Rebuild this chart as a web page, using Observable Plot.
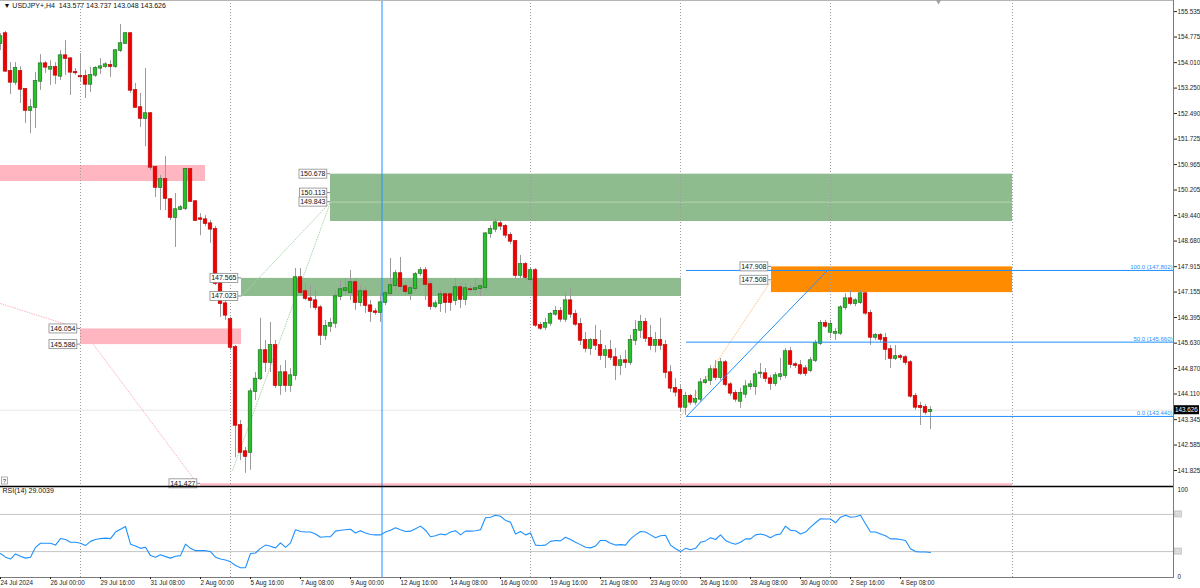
<!DOCTYPE html>
<html>
<head>
<meta charset="utf-8">
<script src="https://cdn.jsdelivr.net/npm/d3@7"></script>
<script src="https://cdn.jsdelivr.net/npm/@observablehq/plot@0.6"></script>
<style>
  html, body { margin: 0; padding: 0; background: #ffffff; }
  #chart { position: relative; width: 1200px; height: 588px; overflow: hidden; background: #ffffff; }
  #chart svg { position: absolute; left: 0; display: block; }
</style>
</head>
<body>
<div id="chart"></div>
<script>
// ---------------- DATA ----------------
const symbolTitle = "\u25BC USDJPY+,H4  143.577 143.737 143.048 143.626";
const rsiTitle = "RSI(14) 29.0039";

const open = [
154.58,154.88,153.75,153.42,153.75,153.21,152.58,152.67,153.45,153.98,
153.81,153.87,153.60,154.22,154.13,153.72,153.60,153.60,153.36,153.63,
153.84,153.89,153.93,153.89,154.37,154.58,154.88,153.18,152.67,152.34,
152.49,150.88,150.28,150.52,149.92,149.38,149.62,149.65,150.82,149.86,
149.35,149.32,149.20,149.03,147.41,146.81,146.34,145.50,143.17,142.39,
142.36,144.18,144.56,145.41,145.05,145.56,144.36,144.75,144.36,144.66,
147.59,147.17,146.96,146.90,146.69,145.86,146.13,146.22,147.02,147.20,
147.14,147.44,146.84,147.17,146.75,146.57,146.54,146.84,147.11,147.35,
147.71,147.32,147.11,147.26,147.71,147.80,147.38,146.72,146.81,147.08,
147.08,146.90,147.29,146.93,147.23,147.23,147.26,147.29,148.90,149.03,
149.20,149.12,148.85,148.67,147.65,147.98,147.53,147.80,146.16,146.10,
146.22,146.49,146.58,146.34,146.90,146.49,146.19,145.71,145.47,145.71,
145.56,145.26,145.41,145.20,144.96,145.11,145.05,145.71,146.01,146.25,
145.77,145.56,145.71,145.56,144.75,144.28,144.22,143.71,144.04,143.86,
143.95,144.45,144.51,144.84,144.60,145.05,144.39,144.13,143.89,144.10,
144.33,144.33,144.72,144.72,144.57,144.42,144.63,144.66,145.38,144.99,
144.96,144.87,144.81,145.11,145.62,146.22,145.95,145.92,145.92,146.69,
146.96,146.81,146.84,147.11,146.52,145.80,145.86,145.77,145.44,145.17,
145.23,145.20,145.05,144.04,143.74,143.71,143.577];

const high = [
154.88,154.94,154.01,154.01,153.89,153.24,152.91,153.72,154.25,154.04,
154.07,154.01,154.37,154.67,154.16,153.84,154.28,153.78,153.87,153.89,
154.13,154.01,154.07,154.40,155.15,154.91,154.91,153.39,153.09,153.84,
152.52,150.91,150.64,151.21,149.95,150.10,149.74,150.84,150.85,149.89,
149.50,149.44,149.29,149.12,147.50,146.90,146.40,145.56,143.32,142.51,
144.27,144.75,146.37,145.71,146.25,145.71,144.96,145.11,144.87,147.86,
147.86,147.41,147.35,147.20,146.75,146.31,146.37,147.20,147.50,147.56,
147.80,147.56,147.35,147.29,146.90,146.66,147.11,147.20,148.16,147.80,
148.19,147.41,147.35,147.74,147.89,147.89,147.50,146.90,147.20,147.14,
147.11,147.56,147.41,147.41,147.35,147.56,147.35,148.93,149.14,149.35,
149.29,149.17,148.93,148.70,148.25,148.04,147.86,147.86,146.25,146.37,
146.55,146.72,146.69,147.14,147.29,146.61,146.37,145.95,145.77,146.16,
146.01,145.56,145.71,145.47,145.26,145.41,145.86,146.31,146.46,146.37,
146.16,145.95,146.37,145.71,144.96,144.57,144.36,144.16,144.10,144.22,
144.57,144.63,144.96,145.11,145.17,145.11,144.45,144.22,144.28,144.51,
144.51,144.81,145.02,144.87,144.66,144.75,145.17,145.47,145.50,145.05,
145.11,144.96,145.20,145.71,146.31,146.31,146.31,146.07,146.75,147.11,
147.20,146.96,147.20,147.17,146.61,145.92,145.92,145.92,145.56,145.56,
145.29,145.26,145.11,144.13,143.86,143.80,143.737];

const low = [
154.37,153.72,153.06,153.33,152.79,152.19,151.89,152.04,153.18,153.69,
153.33,153.36,153.48,153.63,153.03,153.63,153.42,152.94,153.12,153.57,
153.66,153.84,153.57,153.84,154.31,154.58,153.09,152.64,152.07,151.50,
150.79,149.98,149.59,149.59,149.29,148.49,149.59,149.59,149.83,149.26,
148.84,149.11,148.61,147.35,146.40,146.31,145.41,142.21,142.12,141.74,
141.83,143.92,144.51,144.75,144.75,144.28,144.07,144.16,144.16,144.51,
147.08,146.90,146.66,146.61,145.56,145.71,145.95,146.07,146.90,147.05,
146.90,146.61,146.72,146.52,146.25,146.46,146.25,146.75,147.02,147.20,
147.20,147.05,146.90,147.14,147.62,146.90,146.61,146.66,146.55,146.52,
146.58,146.75,146.66,146.75,147.14,147.11,147.02,147.20,148.76,148.93,
148.99,148.76,148.58,147.56,147.56,147.50,147.44,146.10,146.01,146.01,
146.13,146.43,146.25,146.25,146.37,146.13,145.56,145.34,145.26,145.41,
145.11,144.87,145.11,144.51,144.66,144.87,144.96,145.56,145.77,145.65,
145.41,145.34,145.41,144.57,144.16,144.02,143.56,143.47,143.77,143.77,
143.86,144.39,144.36,144.51,144.51,144.33,144.04,143.86,143.68,143.98,
144.22,144.07,144.57,144.45,144.22,144.33,144.51,144.57,144.87,144.87,
144.66,144.63,144.75,145.05,145.56,146.07,145.77,145.71,145.86,146.61,
146.75,146.72,146.78,146.46,145.56,145.71,145.65,145.11,144.87,145.11,
145.11,144.96,143.98,143.62,143.17,143.48,143.048];

const close = [
154.79,153.75,153.42,153.84,153.21,152.58,152.67,153.45,153.98,153.87,
153.87,153.63,154.22,154.13,153.72,153.70,153.58,153.36,153.63,153.84,
153.89,153.95,153.89,154.37,154.58,154.88,153.18,152.67,152.34,152.49,
150.88,150.28,150.52,149.95,149.38,149.62,149.68,150.82,149.86,149.29,
149.32,149.20,149.03,147.41,146.81,146.46,145.50,143.17,142.36,142.24,
144.18,144.56,145.41,145.05,145.56,144.36,144.75,144.36,144.66,147.59,
147.14,146.96,146.90,146.69,145.86,146.13,146.22,147.02,147.23,147.26,
147.44,146.84,147.17,146.75,146.57,146.54,146.84,147.11,147.35,147.71,
147.32,147.17,147.26,147.68,147.80,147.38,146.72,146.81,147.08,146.84,
146.84,147.29,146.93,147.26,147.22,147.26,147.32,148.90,149.03,149.23,
149.12,148.85,148.67,147.65,147.98,147.59,147.80,146.16,146.07,146.22,
146.49,146.58,146.34,146.90,146.49,146.19,145.71,145.47,145.71,145.56,
145.26,145.41,145.20,144.96,145.11,145.05,145.71,146.01,146.25,145.77,
145.56,145.71,145.56,144.75,144.28,144.16,143.71,144.04,143.86,143.95,
144.45,144.51,144.84,144.60,145.05,144.39,144.13,143.95,144.13,144.33,
144.39,144.69,144.74,144.57,144.42,144.66,144.69,145.38,144.99,144.96,
144.72,144.72,145.11,145.62,146.22,146.13,146.19,145.95,146.69,146.96,
146.81,146.90,147.11,146.52,145.80,145.86,145.74,145.44,145.17,145.23,
145.20,145.05,144.04,143.71,143.70,143.56,143.626];

const rsi = [
28,24,22,27.5,25,23,24,34.6,39,39,
39,37,44,43,40,40,39,36.5,41,43,
44,44.5,44,51,54,57,38,36,33.5,34.6,
25.7,24,26.5,24.6,23,25,25.7,38,33.5,31,
31,31,30,24,22,21,19,15,12.7,12.7,
28,28.5,33.5,37,35.7,34,39.4,34.6,39.4,53.5,
51.6,51,51,49,45.5,46,46,52,53,53.5,
54,50,52.5,50,48.4,48,48,51,53,55.6,
53.5,51.6,52,54.5,57.4,53,46,47,49,48,
51,52.5,48,52,52,52.5,53.5,66.4,67,69,
68,63.5,61.7,49,51.6,48,50,37,36.5,37,
41,42,41.5,45.5,43,40,37.5,34.6,34,36,
42,42,39,37,37.5,37,43.7,48,51.6,51,
48,45,47,47.6,37,33,30,33.5,32,33.5,
40,41.5,45,43,48,42,39.5,38,40,43.7,
43.7,48,49,47.6,45,48,49,57.4,53,52.5,
49,51,56.3,61,65.3,65,65,61,67,69,
67,67.4,69,60,51,51,49,47,43.7,43.7,
43,42,33,30,29.5,29.5,29.0039];
const rsiLevels = [70, 30];

// time axis (bar index -> label)
const timeTickBars = [0,10,20,30,40,50,60,70,80,90,100,110,120,130,140,150,160,170,180];
const timeTickLabels = ["24 Jul 2024","26 Jul 00:00","29 Jul 16:00","31 Jul 08:00","2 Aug 00:00",
  "5 Aug 16:00","7 Aug 08:00","9 Aug 00:00","12 Aug 16:00","14 Aug 08:00","16 Aug 00:00",
  "19 Aug 16:00","21 Aug 08:00","23 Aug 00:00","26 Aug 16:00","28 Aug 08:00","30 Aug 00:00",
  "2 Sep 16:00","4 Sep 08:00"];

// price axis ticks
const priceTicks = [155.535,154.775,154.010,153.250,152.490,151.725,150.965,150.205,149.440,
  148.680,147.915,147.155,146.395,145.630,144.870,144.110,143.345,142.585,141.825];

// period separators (bar index of week start) and vertical line objects
const separatorBars = [16, 46, 106, 136, 166, 202.4];
const markerBar = 76.3;
const shiftBar = 187.6;

// zones (rectangle objects): bar range and price range
const zoneKind      = ["supply","supply","supply","demand","demand","target"];
const zoneStartBar  = [-3, 16, 40, 66, 48.2, 154.2];
const zoneEndBar    = [41, 48.2, 202.4, 202.4, 136.2, 202.4];
const zoneTop       = [150.937, 146.054, 141.427, 150.678, 147.565, 147.908];
const zoneBottom    = [150.459, 145.586, 141.36, 149.264, 147.023, 147.14];
const zoneMidLevel  = [149.843];

// price labels of the objects
const priceLabelValue = [150.678,150.113,149.843,147.565,147.023,146.054,145.586,141.427,147.908,147.508];
const priceLabelBar   = [66,66,66,48.2,48.2,16,16,40,154.2,154.2];

// thin trend lines (bar, price) -> (bar, price)
const lineKind   = ["supply","supply","demand","demand","target"];
const lineBar1   = [-1, 18.6, 48.2, 46.4, 136];
const linePrice1 = [146.86, 145.586, 147.023, 141.83, 143.44];
const lineBar2   = [16, 39.4, 66, 66, 154.2];
const linePrice2 = [146.054, 141.427, 149.843, 149.843, 147.508];

// Fibonacci retracement
const fibPct   = [100, 50, 0];
const fibPrice = [147.802, 145.660, 143.440];
const fibBar1 = 137.2, fibBar2 = 165.4;

// ---------------- LAYOUT / STYLE ----------------
const FONT = "'Liberation Sans', Arial, sans-serif";
const W = 1200, MAIN_H = 486, RSI_H = 102, RIGHT = 27;
const X_DOMAIN = [0, 234.6];
const Y_DOMAIN = [141.347, 155.867];
const ZONE_FILL = {supply: "#ffb6c1", demand: "#8fbc8f", target: "#ff8c00"};
const LINE_STROKE = {supply: "#ffb0bc", demand: "#a9d3a9", target: "#ffbe80"};
const BLUE = "#1e90ff";
const BODY = 0.36;
const AXIS_FONT = 6.3;

const bars = open.map((o, i) => ({i, open: o, high: high[i], low: low[i], close: close[i]}));
const upBars = bars.filter(d => d.close >= d.open);
const downBars = bars.filter(d => d.close < d.open);
const zones = zoneKind.map((k, j) => ({kind: k, x1: zoneStartBar[j], x2: zoneEndBar[j], y1: zoneTop[j], y2: zoneBottom[j]}));
const lines = lineKind.map((k, j) => ({kind: k, x1: lineBar1[j], y1: linePrice1[j], x2: lineBar2[j], y2: linePrice2[j]}));
const fibs = fibPct.map((p, j) => ({pct: p, price: fibPrice[j]}));
const rsiData = rsi.map((v, i) => ({i, v}));
const lastClose = close[close.length - 1];
const fmt3 = d3.format(".3f");

const dotted = {stroke: "#9c9c9c", strokeDasharray: "1,2", strokeWidth: 1};

const main = Plot.plot({
  width: W, height: MAIN_H,
  marginTop: 0, marginBottom: 0, marginLeft: 0, marginRight: RIGHT,
  x: {domain: X_DOMAIN, axis: null, label: null},
  y: {domain: Y_DOMAIN, axis: null, label: null},
  style: {fontFamily: FONT, fontSize: "7px", background: "transparent", overflow: "visible"},
  marks: [
    ...Object.keys(ZONE_FILL).map(k =>
      Plot.rect(zones.filter(z => z.kind === k), {x1: "x1", x2: "x2", y1: "y1", y2: "y2", fill: ZONE_FILL[k]})),
    Plot.ruleY(zoneMidLevel, {x1: zoneStartBar[3], x2: zoneEndBar[3], stroke: "#b5d3b5", strokeWidth: 1}),
    Plot.ruleX(separatorBars, dotted),
    Plot.ruleY([lastClose], {stroke: "#e6e6e6"}),
    ...Object.keys(LINE_STROKE).map(k =>
      Plot.link(lines.filter(l => l.kind === k), {x1: "x1", y1: "y1", x2: "x2", y2: "y2",
        stroke: LINE_STROKE[k], strokeWidth: 1, strokeDasharray: "1.5,1"})),
    Plot.ruleX(bars, {x: "i", y1: "low", y2: "high", stroke: "#9b9b9b", strokeWidth: 1}),
    Plot.rect(upBars, {x1: d => d.i - BODY, x2: d => d.i + BODY, y1: "open", y2: "close",
      fill: "#27c227", stroke: "#1f5f1f", strokeWidth: 0.6, insetTop: -0.3, insetBottom: -0.3}),
    Plot.rect(downBars, {x1: d => d.i - BODY, x2: d => d.i + BODY, y1: "open", y2: "close",
      fill: "#f20000", stroke: "#b00000", strokeWidth: 0.6, insetTop: -0.3, insetBottom: -0.3}),
    Plot.ruleY(fibs, {y: "price", x1: fibBar1, x2: X_DOMAIN[1], stroke: BLUE, strokeWidth: 1}),
    Plot.link([0], {x1: fibBar1, y1: fibPrice[2], x2: fibBar2, y2: fibPrice[0], stroke: BLUE, strokeWidth: 1}),
    Plot.text(fibs, {x: X_DOMAIN[1], y: "price", text: d => `${d.pct.toFixed(1)} (${fmt3(d.price)})`,
      textAnchor: "end", lineAnchor: "bottom", dx: -1, dy: -1, fontSize: 6, fill: BLUE}),
    Plot.ruleX([markerBar], {stroke: BLUE, strokeWidth: 1}),
    Plot.frame({anchor: "top", stroke: "#b4b4b4"}),
    Plot.frame({anchor: "right", stroke: "#7a7a7a"}),
    Plot.axisY(priceTicks, {anchor: "right", label: null, tickSize: 3, tickPadding: 1, tickFormat: fmt3, fontSize: AXIS_FONT, color: "#222"}),
    Plot.text([symbolTitle], {frameAnchor: "top-left", dx: 3, dy: 3, lineAnchor: "top", fontSize: 7, fill: "#111"}),
    Plot.dot([shiftBar], {x: d => d, frameAnchor: "top", symbol: "triangle", r: 2.6, rotate: 180, fill: "#a0a0a0", stroke: "none"})
  ]
});

const rsiPlot = Plot.plot({
  width: W, height: RSI_H,
  marginTop: 0, marginBottom: 11, marginLeft: 0, marginRight: RIGHT,
  x: {domain: X_DOMAIN, axis: null, label: null},
  y: {domain: [0, 100], range: [93, 0], axis: null, label: null},
  style: {fontFamily: FONT, fontSize: "7px", background: "transparent", overflow: "visible"},
  marks: [
    Plot.ruleY(rsiLevels, {stroke: "#c4c4c4", strokeWidth: 1}),
    Plot.ruleX(separatorBars, dotted),
    Plot.ruleX([markerBar], {stroke: BLUE, strokeWidth: 1}),
    Plot.line(rsiData, {x: "i", y: "v", stroke: BLUE, strokeWidth: 1.1}),
    Plot.ruleY([100], {stroke: "#000", strokeWidth: 1.6}),
    Plot.frame({anchor: "right", stroke: "#7a7a7a"}),
    Plot.frame({anchor: "bottom", stroke: "#7a7a7a"}),
    Plot.axisX(timeTickBars, {anchor: "bottom", label: null, tickSize: 2, tickPadding: 1,
      tickFormat: d => timeTickLabels[timeTickBars.indexOf(d)], textAnchor: "start", fontSize: AXIS_FONT, color: "#222"}),
    Plot.axisY([100], {anchor: "right", label: null, tickSize: 0, tickPadding: 4, dy: 3, fontSize: AXIS_FONT, color: "#222"}),
    Plot.axisY([0], {anchor: "right", label: null, tickSize: 0, tickPadding: 4, dy: -3, fontSize: AXIS_FONT, color: "#222"}),
    Plot.text([rsiTitle], {frameAnchor: "top-left", dx: 2, dy: 2, lineAnchor: "top", fontSize: 7, fill: "#111"})
  ]
});

const container = document.getElementById("chart");
main.style.top = "0px";
rsiPlot.style.top = MAIN_H + "px";
container.appendChild(main);
container.appendChild(rsiPlot);

// boxed object price labels (positioned through the plot's own scales)
{
  const xs = main.scale("x"), ys = main.scale("y");
  const g = d3.select(main).append("g").attr("font-family", FONT).attr("font-size", 7).attr("text-anchor", "start");
  priceLabelValue.forEach((v, k) => {
    const xa = xs.apply(priceLabelBar[k]), ya = ys.apply(v);
    g.append("line").attr("x1", xa - 3).attr("x2", xa).attr("y1", ya).attr("y2", ya).attr("stroke", "#8a8a8a");
    const t = g.append("text").attr("x", xa - 4.5).attr("y", ya).attr("dy", "0.35em")
      .attr("text-anchor", "end").attr("fill", "#111").text(fmt3(v));
    const bb = t.node().getBBox();
    g.insert("rect", () => t.node()).attr("x", bb.x - 1.2).attr("y", ya - 4.5)
      .attr("width", bb.width + 2.4).attr("height", 9)
      .attr("fill", "#fff").attr("stroke", "#8a8a8a").attr("stroke-width", 0.8);
  });
  // current price marker on the price scale
  const xr = xs.range[1], yc = ys.apply(lastClose);
  g.append("rect").attr("x", xr + 1).attr("y", yc - 4.5).attr("width", 25).attr("height", 9).attr("fill", "#000");
  g.append("text").attr("x", xr + 2).attr("y", yc).attr("dy", "0.35em").attr("font-size", AXIS_FONT)
    .attr("text-anchor", "start").attr("fill", "#fff").text(fmt3(lastClose));
  // small "?" icon at bottom-left
  const yb = ys.range[0];
  g.append("rect").attr("x", 1.5).attr("y", yb - 9).attr("width", 6).attr("height", 7)
    .attr("fill", "#fff").attr("stroke", "#8a8a8a").attr("stroke-width", 0.7);
  g.append("text").attr("x", 4.5).attr("y", yb - 5.5).attr("dy", "0.35em").attr("text-anchor", "middle")
    .attr("font-size", 6).attr("fill", "#333").text("?");
}
// RSI level badges on the right scale
{
  const xs = rsiPlot.scale("x"), ys = rsiPlot.scale("y");
  const g = d3.select(rsiPlot).append("g").attr("font-family", FONT).attr("font-size", 5.5).attr("text-anchor", "start");
  const xr = xs.range[1];
  rsiLevels.forEach(v => {
    const yv = ys.apply(v);
    g.append("rect").attr("x", xr + 1).attr("y", yv - 3.5).attr("width", 8).attr("height", 7).attr("fill", "#cdcdcd");
    g.append("text").attr("x", xr + 1.8).attr("y", yv).attr("dy", "0.35em").attr("fill", "#f2f2f2").text(v);
  });
}
</script>
</body>
</html>
